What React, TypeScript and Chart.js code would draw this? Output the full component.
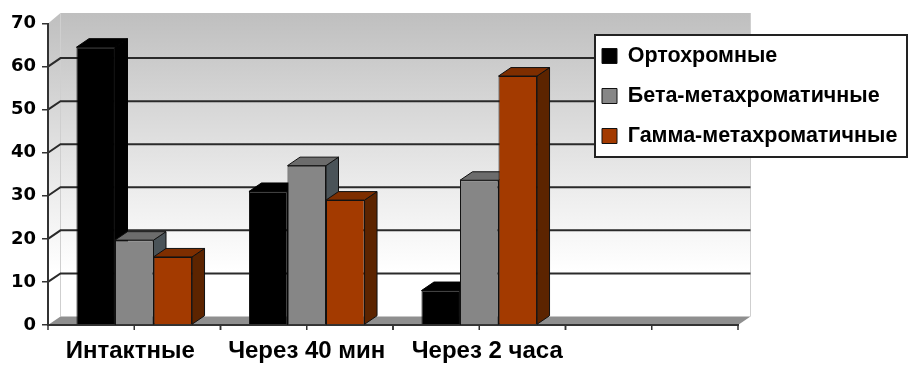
import React, { useEffect, useRef } from "react";
import { Chart, registerables } from "chart.js";

Chart.register(...registerables);

const categories = ["Интактные", "Через 40 мин", "Через 2 часа", ""];
const orthochromic = [64.5, 31, 8, null];
const betaMeta = [19.7, 37, 33.6, null];
const gammaMeta = [15.8, 29, 57.8, null];
const yMax = 70;
const yStep = 10;

const FONT = '"Liberation Sans", sans-serif';
const DEPTH_X = 12.5;
const DEPTH_Y = -8.5;
const WALL_TOP_EXTRA = 2;
const labelNudge = [-4, 0, 8, 0];

const faceColors = [
  { top: "#000000", side: "#000000", edge: "#000000" },
  { top: "#6c6c6c", side: "#4a5358", edge: "#111111" },
  { top: "#7e2e00", side: "#5c2400", edge: "#111111" },
];

function poly(ctx: CanvasRenderingContext2D, pts: number[][], fill: string, stroke?: string) {
  ctx.beginPath();
  pts.forEach((p, i) => (i ? ctx.lineTo(p[0], p[1]) : ctx.moveTo(p[0], p[1])));
  ctx.closePath();
  ctx.fillStyle = fill;
  ctx.fill();
  if (stroke) {
    ctx.strokeStyle = stroke;
    ctx.lineWidth = 1;
    ctx.stroke();
  }
}

const scene3d = {
  id: "scene3d",
  afterUpdate(chart: any) {
    const items = chart.scales.x.getLabelItems(chart.chartArea);
    items.forEach((it: any, i: number) => {
      it.options.translation = [it.options.translation[0] + labelNudge[i], it.options.translation[1]];
    });
  },
  beforeDraw(chart: any) {
    const { ctx, chartArea: a, scales } = chart;
    const y = scales.y;
    const x = scales.x;
    const l = a.left, r = a.right, t = a.top, b = a.bottom;
    const wallTop = t + DEPTH_Y - WALL_TOP_EXTRA;
    ctx.save();
    const grad = ctx.createLinearGradient(0, wallTop, 0, b + DEPTH_Y);
    grad.addColorStop(0, "#bfbfbf");
    grad.addColorStop(0.58, "#ececec");
    grad.addColorStop(0.85, "#ffffff");
    grad.addColorStop(1, "#ffffff");
    // side wall and back wall
    poly(ctx, [[l, t], [l + DEPTH_X, wallTop], [l + DEPTH_X, b + DEPTH_Y], [l, b]], grad);
    poly(ctx, [[l + DEPTH_X, wallTop], [r + DEPTH_X, wallTop], [r + DEPTH_X, b + DEPTH_Y], [l + DEPTH_X, b + DEPTH_Y]], grad);
    // wall edges
    ctx.strokeStyle = "#cfcfcf";
    ctx.lineWidth = 1;
    ctx.beginPath();
    ctx.moveTo(l + DEPTH_X, wallTop);
    ctx.lineTo(l + DEPTH_X, b + DEPTH_Y);
    ctx.moveTo(r + DEPTH_X, wallTop);
    ctx.lineTo(r + DEPTH_X, b + DEPTH_Y);
    ctx.stroke();
    // floor
    poly(ctx, [[l, b], [l + DEPTH_X, b + DEPTH_Y], [r + DEPTH_X, b + DEPTH_Y], [r, b]], "#8f8f8f");
    // gridlines on the walls
    ctx.strokeStyle = "#2a2a2a";
    ctx.lineWidth = 2;
    for (let v = yStep; v < yMax; v += yStep) {
      const py = y.getPixelForValue(v);
      ctx.beginPath();
      ctx.moveTo(l, py);
      ctx.lineTo(l + DEPTH_X, py + DEPTH_Y);
      ctx.lineTo(r + DEPTH_X, py + DEPTH_Y);
      ctx.stroke();
    }
    // category axis tick marks at centres and edges
    const half = (x.getPixelForValue(1) - x.getPixelForValue(0)) / 2;
    ctx.strokeStyle = "#333333";
    ctx.lineWidth = 1.5;
    for (let i = 0; i < categories.length; i++) {
      const c = x.getPixelForValue(i);
      [c - half, c, c + half].forEach((px) => {
        ctx.beginPath();
        ctx.moveTo(px, b);
        ctx.lineTo(px, b + 5);
        ctx.stroke();
      });
    }
    // legend frame, under the legend's own text
    const lg = chart.legend;
    lg.left = 583.5;
    lg.top = 26.75;
    lg.right = 921;
    lg.bottom = 170;
    ctx.fillStyle = "#ffffff";
    ctx.strokeStyle = "#222222";
    ctx.lineWidth = 2;
    ctx.fillRect(595, 35, 312, 122);
    ctx.strokeRect(595, 35, 312, 122);
    ctx.restore();
  },
  beforeDatasetsDraw(chart: any) {
    const { ctx } = chart;
    ctx.save();
    ctx.lineJoin = "round";
    chart.data.datasets.forEach((_: any, di: number) => {
      const c = faceColors[di];
      chart.getDatasetMeta(di).data.forEach((bar: any, i: number) => {
        if (chart.data.datasets[di].data[i] == null) return;
        const { x, y, base, width } = bar.getProps(["x", "y", "base", "width"], true);
        const L = x - width / 2;
        const R = x + width / 2;
        poly(ctx, [[R, y], [R + DEPTH_X, y + DEPTH_Y], [R + DEPTH_X, base + DEPTH_Y], [R, base]], c.side, c.edge);
        poly(ctx, [[L, y], [L + DEPTH_X, y + DEPTH_Y], [R + DEPTH_X, y + DEPTH_Y], [R, y]], c.top, c.edge);
      });
    });
    ctx.restore();
  },
};

export default function App() {
  const ref = useRef<HTMLCanvasElement | null>(null);
  useEffect(() => {
    const common = { categoryPercentage: 0.67, barPercentage: 1, borderWidth: 1, borderColor: "#111111" };
    const chart = new Chart(ref.current as HTMLCanvasElement, {
      type: "bar",
      data: {
        labels: categories,
        datasets: [
          { label: "Ортохромные", data: orthochromic, backgroundColor: "#000000", ...common },
          { label: "Бета-метахроматичные", data: betaMeta, backgroundColor: "#868686", ...common },
          { label: "Гамма-метахроматичные", data: gammaMeta, backgroundColor: "#a33a00", ...common },
        ],
      },
      options: {
        animation: false,
        responsive: false,
        layout: { padding: { top: 23.5, right: 183, left: 0, bottom: 0 } },
        plugins: {
          tooltip: { enabled: false },
          legend: {
            position: "chartArea",
            align: "start",
            labels: {
              boxWidth: 15,
              boxHeight: 15,
              padding: 18.5,
              color: "#000000",
              font: { family: FONT, weight: "bold", size: 21.5 },
            },
          },
        },
        scales: {
          x: {
            offset: true,
            grid: { display: false },
            border: { display: true, color: "#333333", width: 2 },
            ticks: {
              color: "#000000",
              padding: 4,
              maxRotation: 0,
              autoSkip: false,
              font: { family: FONT, weight: "bold", size: 24 },
            },
            afterFit(s: any) {
              s.height = 48;
            },
          },
          y: {
            min: 0,
            max: yMax,
            grid: { drawOnChartArea: false, drawTicks: true, tickLength: 6, color: "#333333", lineWidth: 1.5 },
            border: { display: true, color: "#333333", width: 2 },
            ticks: {
              stepSize: yStep,
              color: "#000000",
              padding: 6,
              font: { family: '"DejaVu Sans", sans-serif', weight: "bold", size: 18 },
            },
            afterFit(s: any) {
              s.width = 48;
            },
          },
        },
      },
      plugins: [scene3d],
    } as any);
    return () => chart.destroy();
  }, []);
  return (
    <div style={{ position: "absolute", left: 0, top: 0, width: 921, height: 373, background: "#ffffff" }}>
      <canvas ref={ref} width={921} height={373} style={{ display: "block" }} />
    </div>
  );
}
